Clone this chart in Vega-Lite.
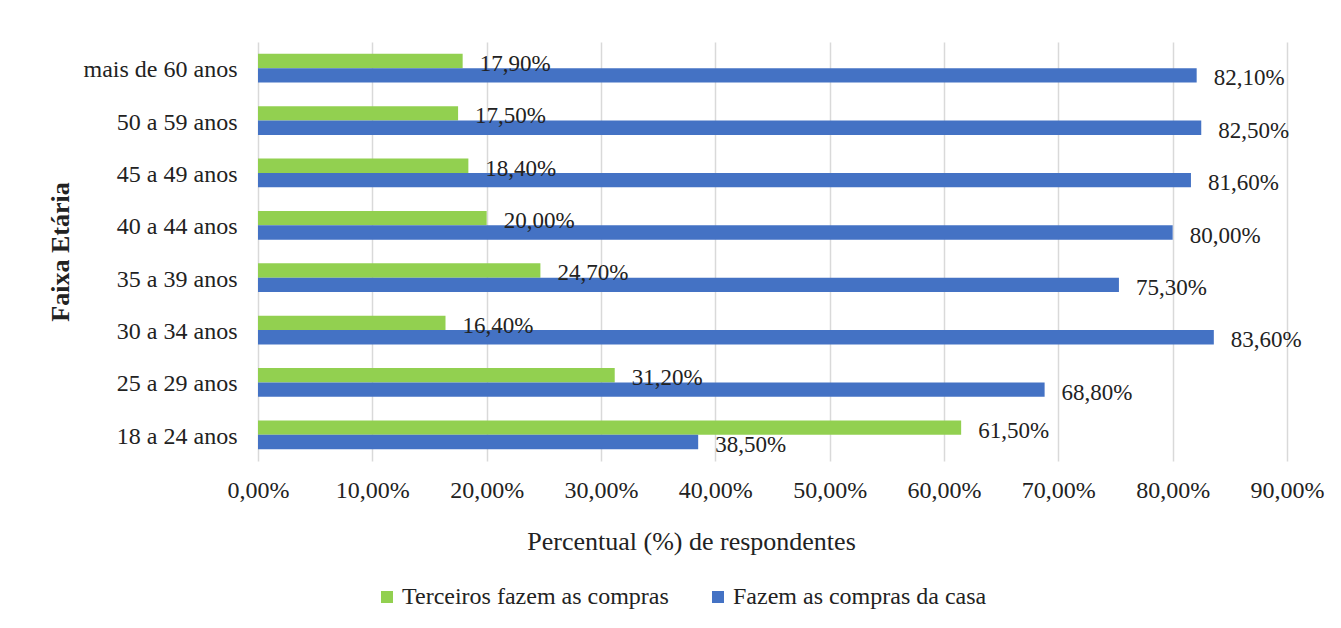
{
  "$schema": "https://vega.github.io/schema/vega-lite/v6.json",
  "width": 1029,
  "height": 419,
  "autosize": {"type": "none"},
  "padding": {"left": 258, "top": 42, "right": 54, "bottom": 167},
  "background": "white",
  "config": {
    "locale": {"number": {"decimal": ",", "thousands": ".", "grouping": [3], "currency": ["R$", ""]}},
    "view": {"stroke": null},
    "font": "Liberation Serif",
    "legend": {
      "orient": "none",
      "legendX": 117,
      "legendY": 543,
      "direction": "horizontal",
      "symbolType": "square",
      "symbolSize": 144,
      "symbolStrokeWidth": 0,
      "labelFontSize": 24,
      "labelFont": "Liberation Serif",
      "labelColor": "#222222",
      "columnPadding": 37,
      "labelOffset": 3,
      "labelLimit": 0
    }
  },
  "data": {
    "values": [
      {"faixa": "mais de 60 anos", "serie": "Terceiros fazem as compras", "valor": 0.179},
      {"faixa": "mais de 60 anos", "serie": "Fazem as compras da casa", "valor": 0.821},
      {"faixa": "50 a 59 anos", "serie": "Terceiros fazem as compras", "valor": 0.175},
      {"faixa": "50 a 59 anos", "serie": "Fazem as compras da casa", "valor": 0.825},
      {"faixa": "45 a 49 anos", "serie": "Terceiros fazem as compras", "valor": 0.184},
      {"faixa": "45 a 49 anos", "serie": "Fazem as compras da casa", "valor": 0.816},
      {"faixa": "40 a 44 anos", "serie": "Terceiros fazem as compras", "valor": 0.2},
      {"faixa": "40 a 44 anos", "serie": "Fazem as compras da casa", "valor": 0.8},
      {"faixa": "35 a 39 anos", "serie": "Terceiros fazem as compras", "valor": 0.247},
      {"faixa": "35 a 39 anos", "serie": "Fazem as compras da casa", "valor": 0.753},
      {"faixa": "30 a 34 anos", "serie": "Terceiros fazem as compras", "valor": 0.164},
      {"faixa": "30 a 34 anos", "serie": "Fazem as compras da casa", "valor": 0.836},
      {"faixa": "25 a 29 anos", "serie": "Terceiros fazem as compras", "valor": 0.312},
      {"faixa": "25 a 29 anos", "serie": "Fazem as compras da casa", "valor": 0.688},
      {"faixa": "18 a 24 anos", "serie": "Terceiros fazem as compras", "valor": 0.615},
      {"faixa": "18 a 24 anos", "serie": "Fazem as compras da casa", "valor": 0.385}
    ]
  },
  "encoding": {
    "y": {
      "field": "faixa",
      "type": "nominal",
      "sort": ["mais de 60 anos", "50 a 59 anos", "45 a 49 anos", "40 a 44 anos", "35 a 39 anos", "30 a 34 anos", "25 a 29 anos", "18 a 24 anos"],
      "scale": {"paddingInner": 0.45, "paddingOuter": 0.225},
      "axis": {
        "title": "Faixa Etária",
        "titleFontSize": 26,
        "titleFontWeight": "bold",
        "titleFont": "Liberation Serif",
        "titleColor": "#222222",
        "titleAngle": -90,
        "titleX": -198,
        "titleY": 209.5,
        "titleAlign": "center",
        "titleBaseline": "middle",
        "labelFontSize": 24,
        "labelFont": "Liberation Serif",
        "labelColor": "#222222",
        "labelPadding": 21,
        "labelOffset": 2,
        "labelLimit": 0,
        "ticks": false,
        "tickSize": 0,
        "domain": false,
        "grid": false
      }
    },
    "yOffset": {
      "field": "serie",
      "type": "nominal",
      "sort": ["Terceiros fazem as compras", "Fazem as compras da casa"]
    },
    "x": {
      "field": "valor",
      "type": "quantitative",
      "scale": {"domain": [0, 0.9], "nice": false},
      "axis": {
        "title": "Percentual (%) de respondentes",
        "titleFontSize": 26,
        "titleFontWeight": "normal",
        "titleFont": "Liberation Serif",
        "titleColor": "#222222",
        "titleX": 433,
        "titleY": 88.5,
        "titleAlign": "center",
        "titleBaseline": "alphabetic",
        "format": ".2%",
        "values": [0, 0.1, 0.2, 0.3, 0.4, 0.5, 0.6, 0.7, 0.8, 0.9],
        "labelFontSize": 24,
        "labelFont": "Liberation Serif",
        "labelColor": "#222222",
        "labelPadding": 17,
        "labelFlush": false,
        "labelOverlap": false,
        "ticks": false,
        "tickSize": 0,
        "domain": false,
        "grid": true,
        "gridColor": "#d9d9d9",
        "gridWidth": 1.5
      }
    }
  },
  "layer": [
    {
      "mark": {"type": "bar"},
      "encoding": {
        "color": {
          "field": "serie",
          "type": "nominal",
          "scale": {
            "domain": ["Terceiros fazem as compras", "Fazem as compras da casa"],
            "range": ["#92D050", "#4472C4"]
          },
          "legend": {"title": null}
        }
      }
    },
    {
      "mark": {
        "type": "text",
        "align": "left",
        "baseline": "middle",
        "dx": 17,
        "dy": 3,
        "fontSize": 23,
        "font": "Liberation Serif",
        "color": "#222222"
      },
      "encoding": {
        "text": {"field": "valor", "type": "quantitative", "format": ".2%"}
      }
    }
  ]
}
